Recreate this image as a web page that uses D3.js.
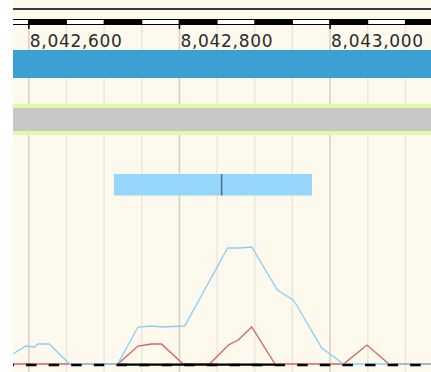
<!DOCTYPE html>
<html><head><meta charset="utf-8">
<script src="https://cdn.jsdelivr.net/npm/d3@7"></script>
<style>
html,body{margin:0;padding:0;background:#fff;}
svg{display:block;}
</style></head>
<body>
<svg id="chart" width="431" height="372"></svg>
<script>
// ---- data ----
const viewStart = 8042579, viewEnd = 8043134;
const majorTicks = [8042600, 8042800, 8043000];
const majorLabels = ["8,042,600", "8,042,800", "8,043,000"];
const minorTicks = [8042650, 8042700, 8042750, 8042850, 8042900, 8042950, 8043050, 8043100];
const rulerWhiteSegments = [[8042550, 8042600], [8042650, 8042700], [8042750, 8042800], [8042850, 8042900], [8042950, 8043000], [8043050, 8043100]];
const geneFeature = [8040000, 8050000];
const greyFeature = [8040000, 8050000];
const transcriptBox = [8042713, 8042976];
const transcriptMark = 8042856;
const bluePos = [8042579, 8042596, 8042608, 8042612, 8042627, 8042654, 8042718, 8042745, 8042763, 8042776, 8042807, 8042864, 8042880, 8042896, 8042930, 8042951, 8042957, 8042989, 8043018, 8043134];
const blueVal = [10, 18, 17, 20, 20, 0, 0, 37, 38, 37, 38, 116, 116, 117, 74, 64, 57, 16, 0, 0];
const redPos = [8042579, 8042718, 8042745, 8042763, 8042776, 8042805, 8042840, 8042865, 8042878, 8042896, 8042927, 8043018, 8043049, 8043075, 8043078, 8043134];
const redVal = [0, 0, 18, 20, 20, 0, 0, 19, 24, 37, 0, 0, 19, 2, 0, 0];
const blackSolid = [8042718, 8042927];

// ---- scales ----
const svg = d3.select("#chart");
const x = d3.scaleLinear().domain([viewStart, viewEnd]).range([13, 431]);
const y = d3.scaleLinear().domain([0, 120]).range([364, 244]);
const cx = v => Math.max(13, Math.min(431, x(v)));

// background
svg.append("rect").attr("x", 13).attr("y", 0).attr("width", 418).attr("height", 372).attr("fill", "#fdf9ed");

// grid lines
svg.selectAll("line.minor").data(minorTicks).join("line")
  .attr("x1", d => x(d)).attr("x2", d => x(d)).attr("y1", 25).attr("y2", 372)
  .attr("stroke", "#e8e6e0").attr("stroke-width", 1.5);
svg.selectAll("line.major").data(majorTicks).join("line")
  .attr("x1", d => x(d)).attr("x2", d => x(d)).attr("y1", 25).attr("y2", 372)
  .attr("stroke", "#d2d0cc").attr("stroke-width", 1.5);

// top line
svg.append("line").attr("x1", 13).attr("x2", 431).attr("y1", 9).attr("y2", 9)
  .attr("stroke", "#3a3a3a").attr("stroke-width", 2);

// ruler
svg.append("rect").attr("x", 13).attr("y", 19).attr("width", 418).attr("height", 6).attr("fill", "#000");
svg.selectAll("rect.rw").data(rulerWhiteSegments).join("rect")
  .attr("x", d => cx(d[0]) + (x(d[0]) < 13 ? 0 : 0.5))
  .attr("width", d => Math.max(0, cx(d[1]) - cx(d[0]) - (x(d[0]) < 13 ? 0.5 : 1)))
  .attr("y", 20).attr("height", 4).attr("fill", "#fff");
svg.selectAll("line.tk").data(majorTicks).join("line")
  .attr("x1", d => x(d)).attr("x2", d => x(d)).attr("y1", 19).attr("y2", 29)
  .attr("stroke", "#000").attr("stroke-width", 1.5);

// labels
svg.selectAll("text.lab").data(majorTicks).join("text")
  .attr("x", d => x(d) + 1).attr("y", 46.5)
  .attr("font-family", "DejaVu Sans, sans-serif").attr("font-size", 17)
  .attr("letter-spacing", "0.7px")
  .attr("fill", "#2a2a2a")
  .text((d, i) => majorLabels[i]);

// blue gene bar
svg.append("rect").attr("x", cx(geneFeature[0])).attr("width", cx(geneFeature[1]) - cx(geneFeature[0]))
  .attr("y", 50).attr("height", 28).attr("fill", "#3e9fd5");

// grey bar with green edges
svg.append("rect").attr("x", cx(greyFeature[0])).attr("width", cx(greyFeature[1]) - cx(greyFeature[0]))
  .attr("y", 104).attr("height", 31).attr("fill", "#dcfca6");
svg.append("rect").attr("x", cx(greyFeature[0])).attr("width", cx(greyFeature[1]) - cx(greyFeature[0]))
  .attr("y", 108).attr("height", 23).attr("fill", "#c8c8c8");

// transcript box
svg.append("rect").attr("x", x(transcriptBox[0])).attr("width", x(transcriptBox[1]) - x(transcriptBox[0]))
  .attr("y", 174).attr("height", 21.5).attr("fill", "#96d6fa");
svg.append("line").attr("x1", x(transcriptMark)).attr("x2", x(transcriptMark)).attr("y1", 174).attr("y2", 195.5)
  .attr("stroke", "#4d6f86").attr("stroke-width", 1.5);

// lines
const line = d3.line().x(d => x(d[0])).y(d => y(d[1]));
svg.append("path").attr("d", line(redPos.map((p, i) => [p, redVal[i]])))
  .attr("fill", "none").attr("stroke", "#d9625f").attr("stroke-width", 1.3);
svg.append("path").attr("d", line(bluePos.map((p, i) => [p, blueVal[i]])))
  .attr("fill", "none").attr("stroke", "#88cff7").attr("stroke-width", 1.3);

// black baseline
svg.append("line").attr("x1", 13).attr("x2", 431).attr("y1", y(0) + 1).attr("y2", y(0) + 1)
  .attr("stroke", "#000").attr("stroke-width", 2.6)
  .attr("stroke-dasharray", "10.5,12.1").attr("stroke-dashoffset", 9.6);
svg.append("line").attr("x1", x(blackSolid[0])).attr("x2", x(blackSolid[1])).attr("y1", y(0) + 0.7).attr("y2", y(0) + 0.7)
  .attr("stroke", "#000").attr("stroke-width", 2.2);
</script>
</body></html>
